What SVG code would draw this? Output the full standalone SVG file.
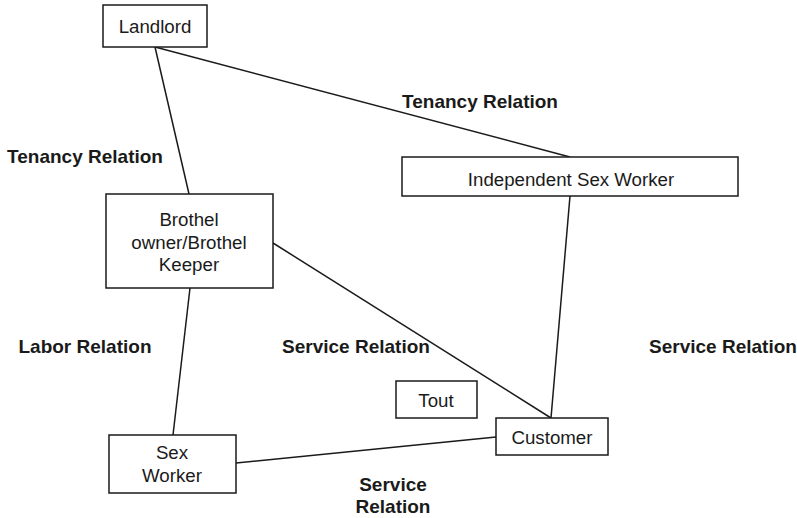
<svg xmlns="http://www.w3.org/2000/svg" width="797" height="518" viewBox="0 0 797 518">
<style>
.box{fill:#fff;stroke:#1a1a1a;stroke-width:1.5}
.lbl{font-family:"Liberation Sans",Arial,sans-serif;font-size:18.7px;fill:#1a1a1a;text-anchor:middle}
.rel{font-family:"Liberation Sans",Arial,sans-serif;font-size:19px;font-weight:bold;fill:#1a1a1a;text-anchor:middle}
.edge{stroke:#1a1a1a;stroke-width:1.5;fill:none}
</style>
<rect width="797" height="518" fill="#fff"/>
<g id="connectors">
<line class="edge" x1="155" y1="47" x2="189" y2="194"/>
<line class="edge" x1="155" y1="47" x2="570" y2="157"/>
<line class="edge" x1="570" y1="196" x2="551" y2="418"/>
<line class="edge" x1="273" y1="243" x2="551" y2="418"/>
<line class="edge" x1="190" y1="288" x2="173" y2="435"/>
<line class="edge" x1="236" y1="463" x2="496" y2="437"/>
</g>
<g id="landlord"><rect class="box" x="103" y="5" width="104" height="42"/><text class="lbl" x="155" y="33">Landlord</text></g>
<g id="independent"><rect class="box" x="402" y="157" width="336" height="39"/><text class="lbl" x="571" y="186">Independent Sex Worker</text></g>
<g id="brothel"><rect class="box" x="106" y="194" width="167" height="94"/><text class="lbl" x="189" y="226">Brothel</text><text class="lbl" x="189" y="249">owner/Brothel</text><text class="lbl" x="189" y="271">Keeper</text></g>
<g id="tout"><rect class="box" x="396" y="381" width="81" height="37"/><text class="lbl" x="436" y="407">Tout</text></g>
<g id="customer"><rect class="box" x="496" y="418" width="112" height="37"/><text class="lbl" x="552" y="444">Customer</text></g>
<g id="sexworker"><rect class="box" x="109" y="435" width="127" height="58"/><text class="lbl" x="172" y="459">Sex</text><text class="lbl" x="172" y="482">Worker</text></g>
<g id="labels">
<text class="rel" x="480" y="108">Tenancy Relation</text>
<text class="rel" x="85" y="163">Tenancy Relation</text>
<text class="rel" x="85" y="353">Labor Relation</text>
<text class="rel" x="356" y="353">Service Relation</text>
<text class="rel" x="723" y="353">Service Relation</text>
<text class="rel" x="393" y="491">Service</text>
<text class="rel" x="393" y="513">Relation</text>
</g>
</svg>
